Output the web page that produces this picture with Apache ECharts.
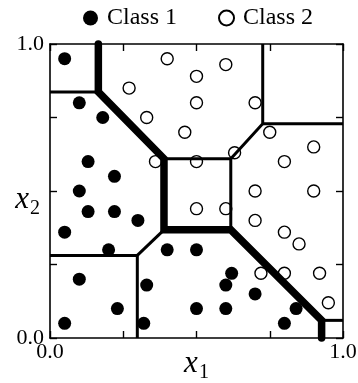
<!DOCTYPE html>
<html>
<head>
<meta charset="utf-8">
<script src="https://cdn.jsdelivr.net/npm/echarts@6/dist/echarts.min.js"></script>
<style>
  html, body { margin: 0; padding: 0; background: #fff; }
  #chart { width: 358px; height: 383px; }
</style>
</head>
<body>
<div id="chart"></div>
<script>
// Sample points of the two classes, as [x1, x2]
const class1Points = [
  [0.05, 0.95], [0.10, 0.80], [0.18, 0.75], [0.13, 0.60], [0.22, 0.55],
  [0.10, 0.50], [0.13, 0.43], [0.22, 0.43], [0.30, 0.40], [0.05, 0.36],
  [0.20, 0.30], [0.40, 0.30], [0.50, 0.30], [0.10, 0.20], [0.33, 0.18],
  [0.62, 0.22], [0.60, 0.18], [0.70, 0.15], [0.23, 0.10], [0.50, 0.10],
  [0.60, 0.10], [0.84, 0.10], [0.05, 0.05], [0.32, 0.05], [0.80, 0.05]
];
const class2Points = [
  [0.40, 0.95], [0.60, 0.93], [0.50, 0.89], [0.27, 0.85], [0.50, 0.80],
  [0.70, 0.80], [0.33, 0.75], [0.46, 0.70], [0.75, 0.70], [0.90, 0.65],
  [0.63, 0.63], [0.36, 0.60], [0.50, 0.60], [0.80, 0.60], [0.70, 0.50],
  [0.90, 0.50], [0.50, 0.44], [0.60, 0.44], [0.70, 0.40], [0.80, 0.36],
  [0.85, 0.32], [0.72, 0.22], [0.80, 0.22], [0.92, 0.22], [0.95, 0.12]
];

// Decision boundary between the classes (thick polyline)
const classBoundary = [
  [0.165, 1.0], [0.165, 0.837], [0.389, 0.61], [0.389, 0.368],
  [0.617, 0.368], [0.927, 0.06], [0.927, 0.0]
];

// Cell edges between cells of the same class (thin polylines)
const cellEdges = [
  [[0.0, 0.837], [0.165, 0.837]],
  [[0.389, 0.61], [0.617, 0.61], [0.617, 0.368]],
  [[0.617, 0.61], [0.726, 0.729], [0.726, 1.0]],
  [[0.726, 0.729], [1.0, 0.729]],
  [[0.0, 0.281], [0.298, 0.281], [0.298, 0.0]],
  [[0.298, 0.281], [0.389, 0.368]],
  [[0.927, 0.06], [1.0, 0.06]]
];

const tickValues = [0, 0.25, 0.5, 0.75, 1.0];
const tickLabels = { 0: '0.0', 1: '1.0' };
const legendNames = ['Class 1', 'Class 2'];

const serif = "'Liberation Serif', 'Times New Roman', serif";
const axisMin = tickValues[0];
const axisMax = tickValues[tickValues.length - 1];
const axisStep = tickValues[1] - tickValues[0];

const nameRich = {
  v: { fontFamily: serif, fontSize: 31, fontStyle: 'italic', color: '#000', lineHeight: 30, verticalAlign: 'top' },
  s: { fontFamily: serif, fontSize: 20, color: '#000', lineHeight: 20, padding: [15, 0, 0, 1], verticalAlign: 'top' }
};

function tickFormatter(v) {
  return tickLabels[v] !== undefined ? tickLabels[v] : '';
}

function makeAxis(position, labelMargin, name, extra) {
  return Object.assign({
    type: 'value',
    position: position,
    min: axisMin,
    max: axisMax,
    interval: axisStep,
    splitLine: { show: false },
    axisLine: { show: true, onZero: false, lineStyle: { color: '#000', width: 1.6 } },
    axisTick: { show: true, inside: true, length: 7, lineStyle: { color: '#000', width: 1.4 } },
    axisLabel: {
      show: labelMargin !== null,
      margin: labelMargin || 0,
      fontFamily: serif,
      fontSize: 22,
      color: '#000',
      formatter: tickFormatter
    },
    name: name || '',
    nameLocation: 'middle',
    nameMoveOverlap: false,
    nameTextStyle: { rich: nameRich }
  }, extra || {});
}

const series = [];

series.push({
  name: legendNames[0],
  type: 'scatter',
  data: class1Points,
  symbol: 'circle',
  symbolSize: 13,
  itemStyle: { color: '#000', opacity: 1 },
  z: 2
});
series.push({
  name: legendNames[1],
  type: 'scatter',
  data: class2Points,
  symbol: 'circle',
  symbolSize: 12,
  itemStyle: { color: '#fff', borderColor: '#000', borderWidth: 1.4, opacity: 1 },
  z: 2
});

cellEdges.forEach(edge => {
  series.push({
    type: 'line',
    data: edge,
    symbol: 'none',
    clip: false,
    silent: true,
    lineStyle: { color: '#000', width: 3, cap: 'butt', join: 'miter' },
    z: 3
  });
});

series.push({
  type: 'line',
  data: classBoundary,
  symbol: 'none',
  clip: false,
  silent: true,
  lineStyle: { color: '#000', width: 7.5, cap: 'round', join: 'miter' },
  z: 4
});

const chart = echarts.init(document.getElementById('chart'), null, { renderer: 'canvas' });
chart.setOption({
  animation: false,
  backgroundColor: '#fff',
  legend: {
    data: legendNames,
    left: 78,
    top: 1,
    itemWidth: 15,
    itemHeight: 15,
    itemGap: 41,
    icon: 'circle',
    textStyle: { fontFamily: serif, fontSize: 24, color: '#000', padding: [0, 0, 0, 4] }
  },
  grid: { left: 50, top: 44, width: 293, height: 294, outerBoundsMode: 'none', containLabel: false },
  xAxis: [
    makeAxis('bottom', 3, '{v|x}{s|1}', { nameGap: 10 }),
    makeAxis('top', null)
  ],
  yAxis: [
    makeAxis('left', 6, '{v|x}{s|2}', {
      nameGap: 10,
      nameRotate: 0,
      nameTextStyle: { rich: nameRich, padding: [16, 0, 0, 0] }
    }),
    makeAxis('right', null)
  ],
  series: series
});
</script>
</body>
</html>
